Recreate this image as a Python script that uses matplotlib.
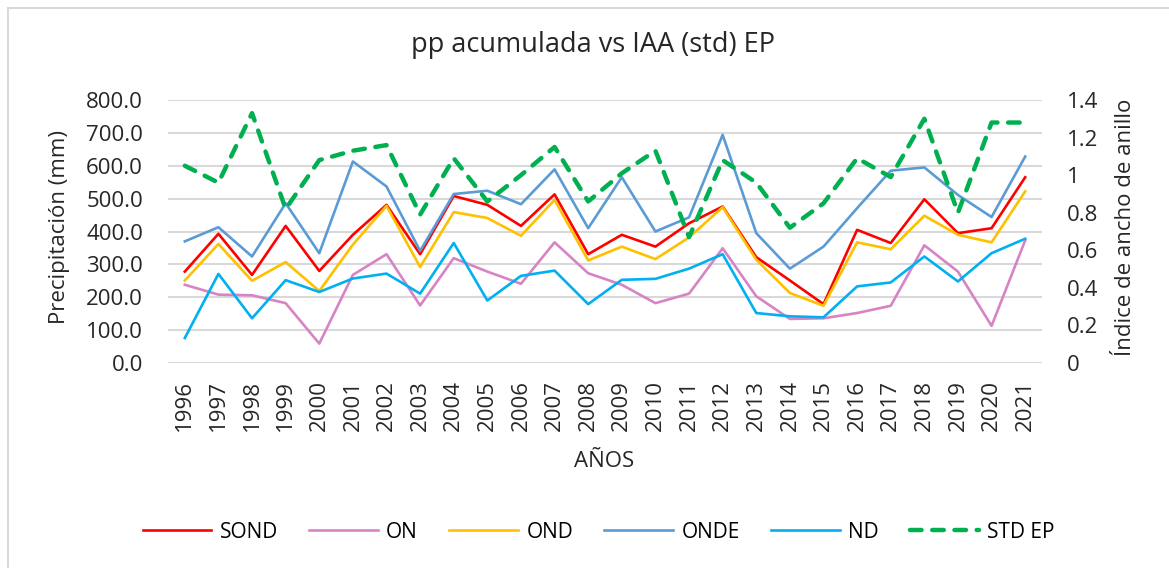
import matplotlib
matplotlib.use('Agg')
import numpy as np
import matplotlib.pyplot as plt
from matplotlib.lines import Line2D

plt.rcParams['font.family'] = ['Open Sans', 'DejaVu Sans']

years = [str(y) for y in range(1996, 2022)]

# precipitacion acumulada (mm)
sond = [278, 393, 268, 417, 280, 390, 481, 331, 508, 481, 417, 513, 331,
        390, 354, 425, 476, 322, 251, 179, 405, 365, 498, 395, 410, 565]
on = [238, 208, 206, 182, 59, 268, 331, 175, 319, 278, 241, 367, 273,
      238, 182, 211, 349, 203, 134, 136, 152, 174, 358, 278, 113, 373]
ond = [251, 362, 250, 307, 219, 360, 478, 292, 459, 441, 387, 496, 312,
       354, 316, 382, 474, 314, 213, 174, 367, 346, 448, 390, 367, 522]
onde = [370, 413, 324, 486, 334, 613, 537, 341, 514, 524, 483, 589, 410,
        565, 400, 443, 694, 395, 287, 354, 471, 585, 595, 511, 444, 628]
nd = [76, 271, 136, 252, 216, 257, 272, 211, 365, 190, 265, 281, 179,
      253, 256, 287, 331, 152, 142, 139, 233, 245, 324, 248, 334, 378]
# indice de ancho de anillo
std_ep = [1.05, 0.96, 1.33, 0.82, 1.08, 1.13, 1.16, 0.79, 1.09, 0.86, 1.00, 1.15, 0.86,
          1.01, 1.13, 0.67, 1.08, 0.96, 0.72, 0.85, 1.09, 0.99, 1.30, 0.80, 1.28, 1.28]

fig = plt.figure(figsize=(11.69, 5.68), dpi=100)
ax = fig.add_axes([168/1169, 1-363/568, (1042-168)/1169, 263/568])
ax2 = ax.twinx()

x = np.arange(len(years))
lw = 1.9
ax.plot(x, sond, color='#FF0000', lw=lw, label='SOND')
ax.plot(x, on, color='#D883C4', lw=lw, label='ON')
ax.plot(x, ond, color='#FFC000', lw=lw, label='OND')
ax.plot(x, onde, color='#5B9BD5', lw=lw, label='ONDE')
ax.plot(x, nd, color='#00B0F0', lw=lw, label='ND')
ax2.plot(x, std_ep, color='#00B050', lw=3.2, dashes=(2.6, 2.4),
         dash_capstyle='round', label='STD EP')

ax.set_xlim(-0.5, len(years) - 0.5)
ax.set_ylim(0, 800)
ax.set_yticks(np.arange(0, 801, 100))
ax.set_yticklabels(['%.1f' % v for v in np.arange(0, 801, 100)])
ax2.set_ylim(0, 1.4)
ax2.set_yticks(np.arange(0, 1.41, 0.2))
ax2.set_yticklabels(['0', '0.2', '0.4', '0.6', '0.8', '1', '1.2', '1.4'])
ax.set_xticks(x)
ax.set_xticklabels(years, rotation=90)

ax.grid(axis='y', color='#D9D9D9', lw=1.5)
ax.set_axisbelow(True)
for a in (ax, ax2):
    for s in a.spines.values():
        s.set_visible(False)
ax.tick_params(axis='y', length=0, pad=18, labelsize=16, colors='#262626')
ax.tick_params(axis='x', length=0, pad=12, labelsize=16, colors='#262626')
ax2.tick_params(axis='y', length=0, pad=18, labelsize=16, colors='#262626')

fig.text(0.507, 0.921, 'pp acumulada vs IAA (std) EP', ha='center', va='center',
         fontsize=19.5, color='#262626')
fig.text(0.051, 0.60, 'Precipitación (mm)', rotation=90, ha='center', va='center',
         fontsize=16, color='#262626')
fig.text(0.963, 0.60, 'Índice de ancho de anillo', rotation=90, ha='center', va='center',
         fontsize=16, color='#262626')
fig.text(0.517, 0.187, 'AÑOS', ha='center', va='center', fontsize=16, color='#262626')

h1, l1 = ax.get_legend_handles_labels()
h2, l2 = ax2.get_legend_handles_labels()
fig.legend(h1 + h2, l1 + l2, loc='center', bbox_to_anchor=(0.512, 0.063), ncol=6,
           frameon=False, fontsize=15, handlelength=3.3, columnspacing=1.5,
           handletextpad=0.4)

# chart frame
fig.add_artist(Line2D([8/1169, 8/1169], [-0.1, 1-8/568], color='#D9D9D9', lw=1.5,
                      transform=fig.transFigure))
fig.add_artist(Line2D([8/1169, 1.1], [1-8/568, 1-8/568], color='#D9D9D9', lw=1.5,
                      transform=fig.transFigure))

plt.savefig('out.png', dpi=100)
plt.close()
